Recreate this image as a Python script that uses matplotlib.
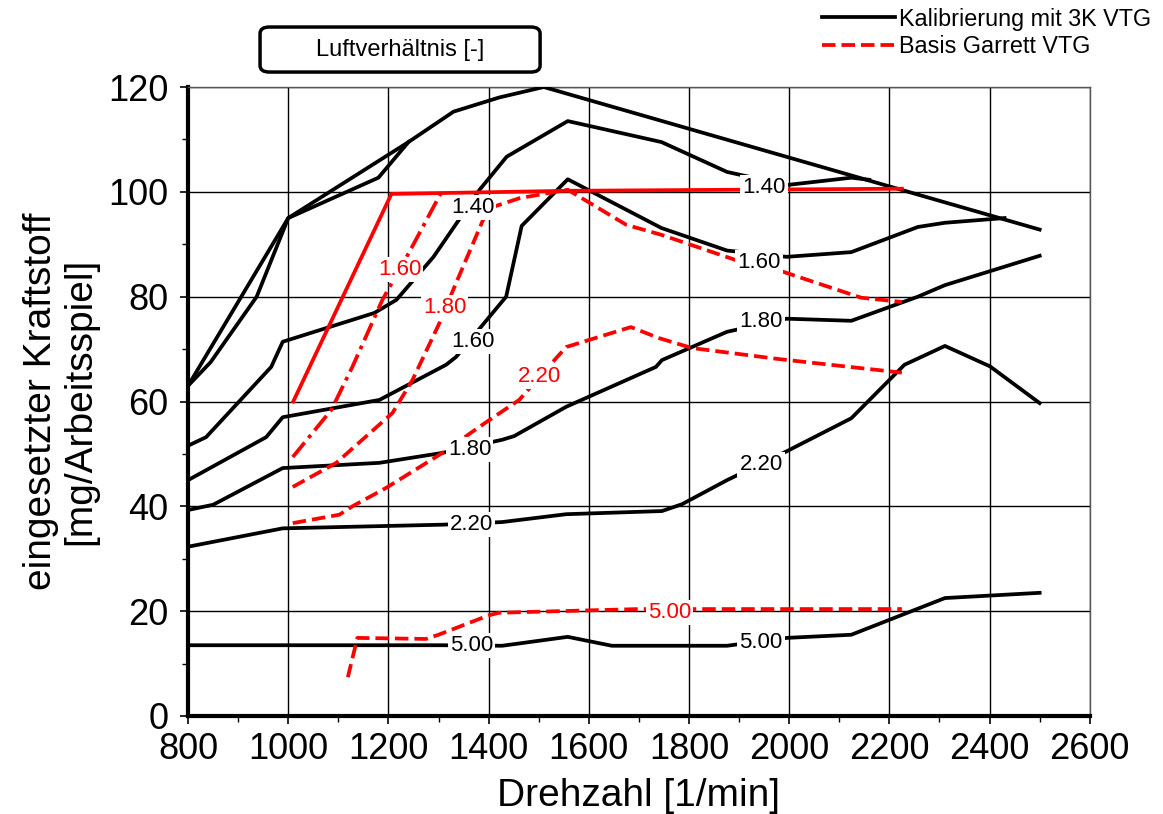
import matplotlib
matplotlib.use("Agg")
import matplotlib.pyplot as plt
from matplotlib.patches import FancyBboxPatch
from matplotlib.ticker import MultipleLocator

plt.rcParams['font.family'] = ['Liberation Sans', 'DejaVu Sans']

# --- Kalibrierung mit 3K VTG (black) ---
env_a_x = [800, 1000, 1240, 1330, 1421, 1510, 2500]
env_a_y = [63, 95, 109.5, 115.3, 118, 120, 92.8]
env_b_x = [800, 845, 937, 1000, 1180, 1240]
env_b_y = [63, 67.5, 80, 95, 102.7, 109.5]
k140_x = [803, 836, 966, 989, 1172, 1216, 1290, 1336, 1382, 1436, 1558, 1745, 1876, 1995, 2124, 2160]
k140_y = [51.7, 53.2, 66.6, 71.4, 76.9, 79.4, 87.6, 94, 100.4, 106.7, 113.5, 109.5, 103.8, 101.3, 102.7, 102.3]
k160_x = [800, 956, 989, 1182, 1315, 1335, 1395, 1435, 1466, 1558, 1745, 1876, 1995, 2124, 2257, 2311, 2430]
k160_y = [45, 53.2, 57, 60.3, 67, 68.5, 75.4, 80, 93.5, 102.4, 93.1, 88.8, 87.6, 88.5, 93.3, 94.1, 95]
k180_x = [800, 850, 989, 1182, 1308, 1427, 1451, 1555, 1734, 1746, 1876, 1995, 2124, 2257, 2311, 2500]
k180_y = [39.3, 40.3, 47.3, 48.3, 50.2, 52.7, 53.4, 59, 66.6, 67.9, 73.3, 75.8, 75.4, 80, 82.2, 87.8]
k220_x = [800, 989, 1308, 1427, 1555, 1746, 1786, 1876, 1995, 2124, 2230, 2311, 2401, 2500]
k220_y = [32.3, 35.8, 36.5, 37, 38.5, 39.1, 40.4, 45, 50.5, 56.8, 67, 70.6, 66.7, 59.7]
k500_x = [800, 1308, 1427, 1558, 1646, 1876, 1995, 2124, 2311, 2500]
k500_y = [13.5, 13.5, 13.4, 15.1, 13.4, 13.4, 14.9, 15.5, 22.5, 23.5]

# --- Basis Garrett VTG (red) ---
g140_x = [1010, 1206, 1560, 2225]
g140_y = [60, 99.6, 100.2, 100.6]
g160_x = [1009, 1086, 1128, 1188, 1241, 1305]
g160_y = [49.4, 58.4, 66.6, 79.4, 88.4, 99.8]
g180_x = [1009, 1096, 1208, 1248, 1302, 1335, 1395, 1408, 1462, 1558, 1675, 1745, 1893, 1980, 2144, 2225]
g180_y = [43.7, 48.3, 57.8, 64.1, 75, 82.6, 96, 97.1, 98.8, 100.4, 93.7, 91.8, 87, 85, 79.8, 79]
g220_x = [1009, 1102, 1128, 1195, 1308, 1382, 1461, 1537, 1555, 1684, 1740, 1806, 1979, 2225]
g220_y = [36.8, 38.4, 40, 43.5, 50.2, 55.2, 60.3, 68.5, 70.4, 74.2, 72.1, 70.2, 68.1, 65.5]
g500_x = [1119, 1138, 1275, 1300, 1400, 1421, 1700, 2225]
g500_y = [7.4, 14.9, 14.7, 15.5, 19.2, 19.7, 20.4, 20.4]

# contour labels
k_lab_txt = ["1.40", "1.40", "1.60", "1.60", "1.80", "1.80", "2.20", "2.20", "5.00", "5.00"]
k_lab_x = [1368, 1950, 1368, 1940, 1362, 1944, 1366, 1944, 1366, 1944]
k_lab_y = [97.1, 100.8, 71.4, 86.6, 50.8, 75.2, 36.5, 47.9, 13.5, 14.1]
g_lab_txt = ["1.60", "1.80", "2.20", "5.00"]
g_lab_x = [1222, 1312, 1501, 1761]
g_lab_y = [85.1, 78, 64.7, 19.7]

fig = plt.figure(figsize=(11.63, 8.14), dpi=100)
ax = fig.add_axes([0.1617, 0.1204, 0.7753, 0.7727])

lw = 2.7
red = '#ff0000'
black_lines = [(env_a_x, env_a_y), (env_b_x, env_b_y), (k140_x, k140_y), (k160_x, k160_y),
               (k180_x, k180_y), (k220_x, k220_y), (k500_x, k500_y)]
for xs, ys in black_lines:
    h_black, = ax.plot(xs, ys, color='black', lw=lw, solid_joinstyle='round', zorder=3)

ax.plot(g140_x, g140_y, color=red, lw=lw, zorder=3)
ax.plot(g160_x, g160_y, color=red, lw=lw, ls=(0, (5, 1.6, 1, 1.6)), zorder=3)
for xs, ys in [(g180_x, g180_y), (g220_x, g220_y), (g500_x, g500_y)]:
    h_red, = ax.plot(xs, ys, color=red, lw=lw, ls=(0, (3.6, 1.6)), zorder=3)

for t, x, y in zip(k_lab_txt, k_lab_x, k_lab_y):
    ax.text(x, y, t, fontsize=16, color='black', ha='center', va='center', zorder=5,
            bbox=dict(facecolor='white', edgecolor='none', pad=1.5))
for t, x, y in zip(g_lab_txt, g_lab_x, g_lab_y):
    ax.text(x, y, t, fontsize=16, color=red, ha='center', va='center', zorder=5,
            bbox=dict(facecolor='white', edgecolor='none', pad=1.5))

ax.set_xlim(800, 2600)
ax.set_ylim(0, 120)
ax.xaxis.set_major_locator(MultipleLocator(200))
ax.xaxis.set_minor_locator(MultipleLocator(100))
ax.yaxis.set_major_locator(MultipleLocator(20))
ax.yaxis.set_minor_locator(MultipleLocator(10))
ax.tick_params(which='major', direction='out', length=6, width=1.2, labelsize=26)
ax.tick_params(which='minor', direction='out', length=4.5, width=1)
ax.tick_params(axis='y', which='major', pad=8)
ax.tick_params(axis='x', which='major', pad=5.5)
ax.grid(True, which='major', color='black', lw=1, zorder=1)
ax.set_axisbelow(True)
for s in ['left', 'bottom']:
    ax.spines[s].set_linewidth(3)
for s in ['top', 'right']:
    ax.spines[s].set_linewidth(1)
    ax.spines[s].set_color('#555555')

ax.set_xlabel('Drehzahl [1/min]', fontsize=28)
ax.xaxis.set_label_coords(0.5, -0.098)
ax.set_ylabel('eingesetzter Kraftstoff\n[mg/Arbeitsspiel]', fontsize=28, linespacing=1.1)
ax.yaxis.set_label_coords(-0.1, 0.5)

fig.legend([h_black, h_red], ['Kalibrierung mit 3K VTG', 'Basis Garrett VTG'],
           loc='upper right', bbox_to_anchor=(1.0, 1.005), frameon=False, fontsize=16.8,
           handlelength=3.1, handletextpad=0.2, labelspacing=0.2, borderaxespad=0.1)

box = FancyBboxPatch((0.2236, 0.9115), 0.2408, 0.0553, transform=fig.transFigure,
                     boxstyle='round,pad=0,rounding_size=0.008', facecolor='white',
                     edgecolor='black', lw=2.5)
fig.add_artist(box)
fig.text(0.2236 + 0.2408 / 2, 0.9115 + 0.0553 / 2, 'Luftverhältnis [-]', fontsize=17,
         ha='center', va='center')

fig.savefig('out.png', dpi=100)
